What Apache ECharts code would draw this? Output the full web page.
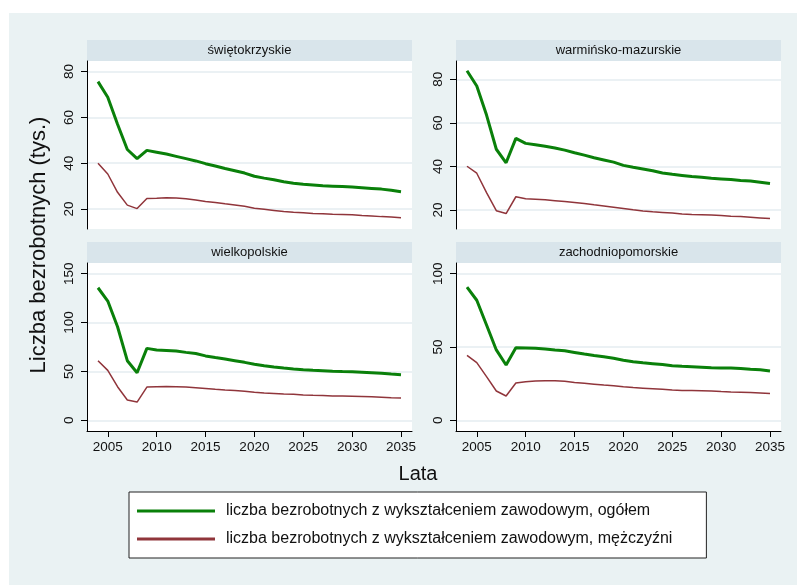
<!DOCTYPE html>
<html><head><meta charset="utf-8">
<script src="https://cdn.jsdelivr.net/npm/echarts@6/dist/echarts.min.js"></script>
<style>html,body{margin:0;padding:0;background:#fff}#c{width:797px;height:585px}</style>
</head><body><div id="c"></div>
<script>
const years = [2004,2005,2006,2007,2008,2009,2010,2011,2012,2013,2014,2015,2016,2017,2018,2019,2020,2021,2022,2023,2024,2025,2026,2027,2028,2029,2030,2031,2032,2033,2034,2035];
const regions = ['świętokrzyskie','warmińsko-mazurskie','wielkopolskie','zachodniopomorskie'];
const seriesNames = ['liczba bezrobotnych z wykształceniem zawodowym, ogółem','liczba bezrobotnych z wykształceniem zawodowym, mężczyźni'];

const swietTotal = [75.6,68.8,57.0,46.0,42.0,45.6,44.8,44.0,43.0,42.0,41.0,39.8,38.8,37.7,36.7,35.7,34.3,33.5,32.8,31.9,31.3,30.8,30.5,30.2,30.0,29.8,29.6,29.3,29.0,28.7,28.2,27.6];
const swietMen   = [40.0,35.3,27.3,21.7,20.2,24.6,24.7,24.9,24.8,24.5,24.0,23.3,22.9,22.3,21.8,21.2,20.4,19.9,19.4,18.9,18.6,18.4,18.1,17.9,17.7,17.6,17.5,17.2,17.0,16.7,16.5,16.2];
const warmTotal  = [83.9,76.9,63.6,47.9,41.7,52.9,50.6,50.0,49.3,48.5,47.5,46.3,45.2,44.0,43.0,42.0,40.5,39.6,38.8,38.0,37.0,36.4,35.9,35.4,35.0,34.6,34.3,34.0,33.6,33.3,32.8,32.2];
const warmMen    = [40.1,36.9,28.0,19.7,18.4,26.1,25.2,25.0,24.7,24.3,23.9,23.5,23.0,22.4,21.9,21.3,20.7,20.1,19.6,19.2,18.9,18.6,18.2,17.9,17.8,17.7,17.5,17.2,17.0,16.7,16.4,16.1];
const wielTotal  = [135.6,122.0,95.7,61.0,48.7,73.6,71.9,71.5,70.8,69.5,68.3,65.9,64.2,62.7,61.0,59.3,57.4,55.8,54.5,53.5,52.6,51.8,51.2,50.7,50.2,49.9,49.7,49.2,48.7,48.2,47.4,46.7];
const wielMen    = [61.0,51.1,34.4,20.8,18.7,34.0,34.4,34.5,34.4,34.0,33.4,32.6,31.8,31.1,30.5,29.8,28.8,28.0,27.5,27.0,26.6,26.0,25.6,25.3,25.0,24.8,24.6,24.3,24.0,23.6,23.1,22.9];
const zachTotal  = [90.9,81.9,65.0,48.0,37.7,49.5,49.4,49.1,48.7,48.0,47.4,46.3,45.2,44.2,43.3,42.3,41.0,40.0,39.2,38.6,38.0,37.2,36.8,36.5,36.2,35.9,35.7,35.6,35.3,34.8,34.5,33.6];
const zachMen    = [44.3,39.3,29.8,20.0,16.6,25.4,26.3,26.8,26.9,26.9,26.6,25.8,25.2,24.6,24.0,23.6,22.9,22.3,21.9,21.5,21.1,20.7,20.4,20.3,20.2,20.0,19.6,19.3,19.2,18.9,18.6,18.2];

const xTicks = [2005,2010,2015,2020,2025,2030,2035];
const yTicksA = [20,40,60,80];
const yTicksB = [20,40,60,80];
const yTicksC = [0,50,100,150];
const yTicksD = [0,50,100];

const totals = [swietTotal, warmTotal, wielTotal, zachTotal];
const mens = [swietMen, warmMen, wielMen, zachMen];
const yTicks = [yTicksA, yTicksB, yTicksC, yTicksD];
const yRanges = [[11.3,84.6],[11.3,88.4],[-10.9,160.9],[-7.3,107.3]];
const xRange = [2002.875, 2036.125];

const FONT = 'Liberation Sans, Arial, sans-serif';
const GREEN = '#0a800a';
const RED = '#90353b';
const gridPos = [[87,61],[456,61],[87,263],[456,263]];
const GW = 325, GH = 168, STRIP = 21;

const grids = [], xAxes = [], yAxes = [], series = [], graphics = [];

graphics.push({type:'rect', left:9, top:13, shape:{width:788, height:572}, style:{fill:'#eaf2f3'}, z:-10, silent:true});

for (let i = 0; i < 4; i++) {
  const [gl, gt] = gridPos[i];
  grids.push({left:gl, top:gt, width:GW, height:GH, show:true, backgroundColor:'#ffffff', borderWidth:0});
  const bottom = i >= 2;
  xAxes.push({
    type:'value', gridIndex:i, min:xRange[0], max:xRange[1],
    axisLine:{show:bottom, onZero:false, lineStyle:{color:'#000', width:1}},
    axisTick:{show:bottom, length:6, customValues:xTicks, lineStyle:{color:'#000'}},
    axisLabel:{show:bottom, customValues:xTicks, formatter:v => String(v), margin:9, fontSize:13.5, color:'#111', fontFamily:FONT},
    splitLine:{show:false}
  });
  yAxes.push({
    type:'value', gridIndex:i, min:yRanges[i][0], max:yRanges[i][1],
    axisLine:{show:true, lineStyle:{color:'#000', width:1}},
    axisTick:{show:true, length:6, customValues:yTicks[i], lineStyle:{color:'#000'}},
    axisLabel:{customValues:yTicks[i], formatter:v => String(v), rotate:90, margin:11, fontSize:13.5, color:'#111', fontFamily:FONT},
    splitLine:{show:true, lineStyle:{color:'#e4edf0', width:1.5}}
  });
  series.push({
    name:seriesNames[0], type:'line', xAxisIndex:i, yAxisIndex:i, symbol:'none', silent:true,
    data: years.map((y, k) => [y, totals[i][k]]),
    lineStyle:{color:GREEN, width:3}, itemStyle:{color:GREEN}, z:3
  });
  series.push({
    name:seriesNames[1], type:'line', xAxisIndex:i, yAxisIndex:i, symbol:'none', silent:true,
    data: years.map((y, k) => [y, mens[i][k]]),
    lineStyle:{color:RED, width:1.5}, itemStyle:{color:RED}, z:2
  });
  graphics.push({type:'rect', left:gl, top:gt - STRIP, shape:{width:GW, height:STRIP}, style:{fill:'#d9e5eb'}, silent:true});
  graphics.push({type:'text', x:gl + GW/2, y:gt - STRIP/2, style:{text:regions[i], fill:'#111', font:'13px ' + FONT, textAlign:'center', textVerticalAlign:'middle'}, silent:true});
}

graphics.push({type:'text', x:39, y:245, rotation:Math.PI/2, style:{text:'Liczba bezrobotnych (tys.)', fill:'#111', font:'22px ' + FONT, textAlign:'center', textVerticalAlign:'middle'}, silent:true});
graphics.push({type:'text', x:418, y:474, style:{text:'Lata', fill:'#111', font:'20px ' + FONT, textAlign:'center', textVerticalAlign:'middle'}, silent:true});

const chart = echarts.init(document.getElementById('c'), null, {renderer:'canvas'});
chart.setOption({
  animation:false,
  backgroundColor:'#ffffff',
  grid:grids, xAxis:xAxes, yAxis:yAxes, series:series,
  graphic:graphics,
  legend:{
    data:[
      {name:seriesNames[0], icon:'rect', itemStyle:{color:GREEN}},
      {name:seriesNames[1], icon:'rect', itemStyle:{color:RED}}
    ],
    orient:'vertical', left:129, top:492,
    backgroundColor:'#ffffff', borderColor:'#222', borderWidth:1,
    padding:[11,34,11,8], itemWidth:78, itemHeight:3, itemGap:12,
    textStyle:{fontSize:16, color:'#111', fontFamily:FONT, padding:[0,0,0,6]},
    selectedMode:false
  }
});
</script></body></html>
